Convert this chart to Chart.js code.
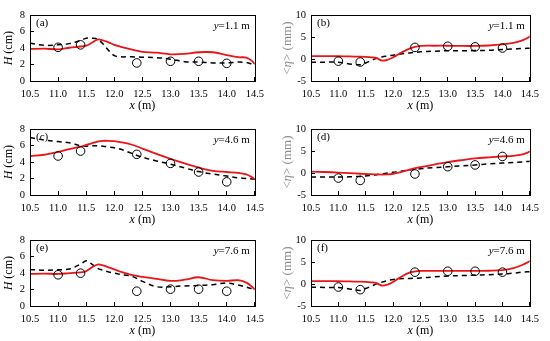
<!DOCTYPE html>
<html>
<head>
<meta charset="utf-8">
<script src="https://cdn.jsdelivr.net/npm/chart.js@4"></script>
<style>
  body { margin: 0; background: #fff; }
  #wrap { position: relative; width: 550px; height: 341px; }
  .panel { position: absolute; width: 275px; height: 113px; }
</style>
</head>
<body>
<div id="wrap">
  <div class="panel" style="left:0;top:0"><canvas id="pa" width="275" height="113"></canvas></div>
  <div class="panel" style="left:275px;top:0"><canvas id="pb" width="275" height="113"></canvas></div>
  <div class="panel" style="left:0;top:114px"><canvas id="pc" width="275" height="113"></canvas></div>
  <div class="panel" style="left:275px;top:114px"><canvas id="pd" width="275" height="113"></canvas></div>
  <div class="panel" style="left:0;top:225px"><canvas id="pe" width="275" height="113"></canvas></div>
  <div class="panel" style="left:275px;top:225px"><canvas id="pf" width="275" height="113"></canvas></div>
</div>
<script>
// x grid for the model curves
const xLine = [10.5, 10.75, 11.0, 11.2, 11.4, 11.5, 11.6, 11.7, 11.8, 11.9, 12.0, 12.1, 12.3, 12.5, 12.75, 13.0, 13.25, 13.5, 13.75, 14.0, 14.2, 14.35, 14.45, 14.5];
// measurement stations
const xMeas = [11.0, 11.4, 12.4, 13.0, 13.5, 14.0];

// wave height H (cm)
const redA = [3.9, 3.95, 3.85, 4.05, 4.2, 4.3, 4.65, 5.05, 4.95, 4.7, 4.4, 4.2, 3.85, 3.55, 3.45, 3.25, 3.3, 3.5, 3.5, 3.15, 2.9, 2.85, 2.45, 2.05];
const dashA = [4.6, 4.35, 4.4, 4.55, 4.95, 5.2, 5.2, 5.1, 4.5, 3.7, 3.1, 2.95, 2.95, 2.9, 2.85, 2.65, 2.35, 2.3, 2.2, 2.2, 2.3, 2.25, 2.05, 1.9];
const measA = [4.1, 4.4, 2.2, 2.4, 2.4, 2.15];

const redC = [4.75, 4.9, 5.25, 5.6, 5.9, 6.1, 6.3, 6.5, 6.6, 6.6, 6.55, 6.45, 6.15, 5.65, 5.0, 4.4, 3.85, 3.35, 2.95, 2.8, 2.7, 2.5, 2.15, 1.9];
const dashC = [7.0, 6.7, 6.5, 6.35, 6.0, 5.95, 6.0, 6.0, 5.95, 5.85, 5.75, 5.6, 5.1, 4.6, 4.15, 3.75, 3.3, 2.85, 2.55, 2.3, 2.1, 2.0, 1.95, 1.9];
const measC = [4.75, 5.35, 4.95, 3.85, 2.8, 1.6];

const redE = [3.9, 3.95, 3.9, 4.0, 4.1, 4.25, 4.7, 5.05, 4.95, 4.7, 4.45, 4.2, 3.8, 3.55, 3.3, 3.05, 3.2, 3.5, 3.15, 3.05, 3.15, 2.85, 2.35, 2.0];
const dashE = [4.45, 4.35, 4.4, 4.5, 5.1, 5.5, 5.1, 4.6, 4.35, 4.15, 4.0, 3.85, 3.65, 3.0, 2.35, 2.35, 2.45, 2.5, 2.6, 2.8, 2.55, 2.3, 2.1, 2.0];
const measE = [3.8, 4.0, 1.8, 2.05, 2.05, 1.8];

// mean water level <eta> (mm)
const redB = [0.67, 0.67, 0.65, 0.6, 0.55, 0.5, 0.4, 0.2, -0.35, -0.15, 0.4, 1.1, 2.4, 3.0, 3.05, 3.05, 3.0, 3.0, 3.1, 3.35, 3.7, 4.2, 4.8, 5.2];
const dashB = [-0.7, -0.7, -0.7, -1.1, -1.3, -0.9, -0.3, 0.2, 0.5, 0.7, 0.9, 1.1, 1.4, 1.65, 1.8, 1.9, 1.9, 1.95, 2.0, 2.2, 2.3, 2.4, 2.45, 2.5];
const measB = [-0.47, -0.67, 2.67, 2.93, 2.8, 2.53];

const redD = [0.35, 0.25, 0.13, 0.0, -0.15, -0.2, -0.25, -0.3, -0.33, -0.3, -0.15, 0.1, 0.8, 1.35, 1.95, 2.5, 2.95, 3.35, 3.6, 3.8, 3.95, 4.2, 4.6, 5.0];
const dashD = [-0.9, -0.9, -0.9, -0.85, -0.75, -0.65, -0.5, -0.35, -0.15, 0.0, 0.2, 0.35, 0.7, 1.0, 1.25, 1.45, 1.65, 1.85, 2.1, 2.3, 2.45, 2.55, 2.65, 2.7];
const measD = [-1.13, -1.67, -0.2, 1.47, 1.87, 3.8];

const redF = [0.67, 0.67, 0.65, 0.6, 0.55, 0.5, 0.4, 0.2, -0.35, -0.1, 0.5, 1.3, 2.6, 3.0, 3.0, 3.0, 3.0, 3.0, 3.05, 3.2, 3.65, 4.3, 4.9, 5.3];
const dashF = [-0.7, -0.75, -0.8, -1.1, -1.45, -1.0, -0.5, 0.05, 0.45, 0.8, 1.05, 1.2, 1.3, 1.4, 1.65, 1.85, 1.95, 2.05, 2.15, 2.3, 2.5, 2.7, 2.8, 2.85];
const measF = [-0.67, -1.27, 2.73, 2.93, 2.93, 2.73];

const panelTags = ['(a)', '(b)', '(c)', '(d)', '(e)', '(f)'];
const yPositions = ['1.1', '4.6', '7.6'];

const SERIF = '"Liberation Serif", "Times New Roman", serif';
const RED = 'rgb(235,20,25)';

function pts(xs, ys) {
  return xs.map((x, i) => ({ x: x, y: ys[i] }));
}

// draws frame, panel tag, y= label and mixed-italic axis titles
const decor = {
  id: 'decor',
  afterDraw(chart, args, o) {
    const ctx = chart.ctx;
    const a = chart.chartArea;
    ctx.save();
    ctx.strokeStyle = '#000';
    ctx.lineWidth = 1;
    ctx.strokeRect(Math.round(a.left) + 0.5, Math.round(a.top) + 0.5, Math.round(a.right - a.left), Math.round(a.bottom - a.top));

    ctx.fillStyle = '#000';
    ctx.textBaseline = 'middle';
    ctx.font = '11px ' + SERIF;
    ctx.textAlign = 'left';
    ctx.fillText(o.tag, a.left + 6, a.top + 8);

    // y=... m at top right
    const rest = '=' + o.ypos + ' m';
    ctx.font = '11px ' + SERIF;
    const wRest = ctx.measureText(rest).width;
    ctx.font = 'italic 11px ' + SERIF;
    const wY = ctx.measureText('y').width;
    const xr = a.right - 5;
    ctx.fillText('y', xr - wRest - wY, a.top + 11);
    ctx.font = '11px ' + SERIF;
    ctx.fillText(rest, xr - wRest, a.top + 11);

    // x title
    drawMixed(ctx, [['x', true], [' (m)', false]], (a.left + a.right) / 2, a.bottom + 25, '#000', 12);

    // y title rotated
    ctx.translate(o.yTitleX, (a.top + a.bottom) / 2);
    ctx.rotate(-Math.PI / 2);
    drawMixed(ctx, o.yTitle, 0, 0, o.yTitleColor, o.yTitleSize);
    ctx.restore();
  }
};

function drawMixed(ctx, parts, cx, cy, color, size) {
  const fonts = parts.map(p => (p[1] ? 'italic ' : '') + size + 'px ' + SERIF);
  let total = 0;
  const widths = parts.map((p, i) => { ctx.font = fonts[i]; const w = ctx.measureText(p[0]).width; total += w; return w; });
  let x = cx - total / 2;
  ctx.fillStyle = color;
  ctx.textAlign = 'left';
  ctx.textBaseline = 'middle';
  parts.forEach((p, i) => { ctx.font = fonts[i]; ctx.fillText(p[0], x, cy); x += widths[i]; });
}

function makePanel(id, idx, red, dash, meas, isEta) {
  const yAxisW = isEta ? 36 : 30;
  const padRight = isEta ? 13 : 19;
  new Chart(document.getElementById(id), {
    type: 'scatter',
    data: {
      datasets: [
        {
          data: pts(xMeas, meas),
          showLine: false,
          pointStyle: 'circle',
          pointRadius: 4.3,
          pointBorderWidth: 1,
          pointBorderColor: '#000',
          pointBackgroundColor: 'rgba(255,255,255,0)',
          order: 0
        },
        {
          data: pts(xLine, dash),
          showLine: true,
          borderColor: '#000',
          borderWidth: 1.5,
          borderDash: [5, 4],
          pointRadius: 0,
          tension: 0.35,
          order: 2
        },
        {
          data: pts(xLine, red),
          showLine: true,
          borderColor: RED,
          borderWidth: 1.8,
          pointRadius: 0,
          tension: 0.35,
          order: 1
        }
      ]
    },
    options: {
      responsive: false,
      animation: false,
      events: [],
      layout: { padding: { top: 6, right: padRight, left: 0, bottom: 0 } },
      scales: {
        x: {
          type: 'linear',
          min: 10.5,
          max: 14.5,
          afterFit: s => { s.height = 32; },
          afterBuildTicks: s => { s.ticks = [10.5, 11, 11.5, 12, 12.5, 13, 13.5, 14, 14.5].map(v => ({ value: v })); },
          grid: { drawOnChartArea: false, tickLength: -4, color: '#000' },
          border: { color: '#000' },
          ticks: {
            color: '#000',
            padding: 11,
            maxRotation: 0,
            autoSkip: false,
            font: { family: SERIF, size: 10.5 },
            callback: v => v.toFixed(1)
          }
        },
        y: {
          min: isEta ? -5 : 0,
          max: isEta ? 10 : 8,
          afterFit: s => { s.width = yAxisW; },
          grid: { drawOnChartArea: false, tickLength: -4, color: '#000' },
          border: { color: '#000' },
          ticks: {
            color: '#000',
            stepSize: isEta ? 5 : 2,
            padding: 9,
            font: { family: SERIF, size: 10.5 }
          }
        }
      },
      plugins: {
        legend: { display: false },
        tooltip: { enabled: false },
        decor: {
          tag: panelTags[idx],
          ypos: yPositions[Math.floor(idx / 2)],
          yTitleX: isEta ? 13 : 9,
          yTitleSize: isEta ? 13 : 12,
          yTitle: isEta ? [['<', false], ['η', true], ['> (mm)', false]] : [['H', true], [' (cm)', false]],
          yTitleColor: isEta ? '#8c8c8c' : '#000'
        }
      }
    },
    plugins: [decor]
  });
}

makePanel('pa', 0, redA, dashA, measA, false);
makePanel('pb', 1, redB, dashB, measB, true);
makePanel('pc', 2, redC, dashC, measC, false);
makePanel('pd', 3, redD, dashD, measD, true);
makePanel('pe', 4, redE, dashE, measE, false);
makePanel('pf', 5, redF, dashF, measF, true);
</script>
</body>
</html>
